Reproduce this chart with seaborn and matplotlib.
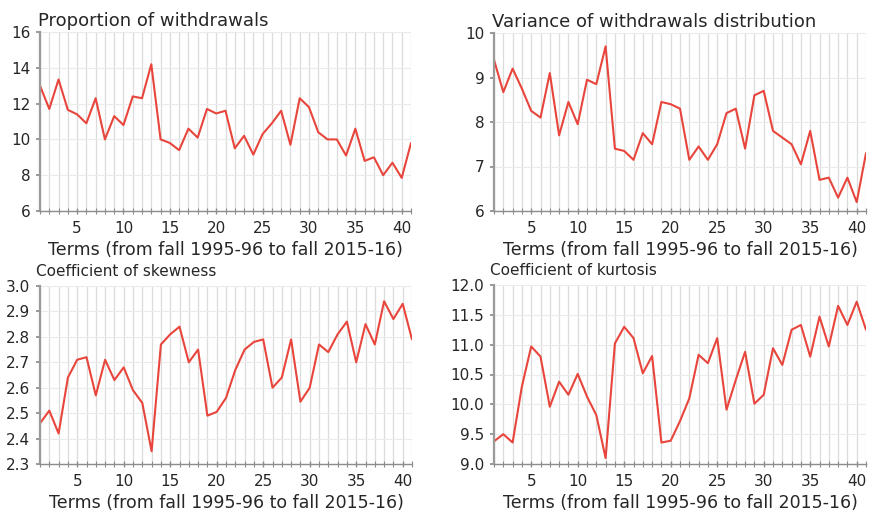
import numpy as np
import pandas as pd
import matplotlib
matplotlib.use("Agg")
import matplotlib.pyplot as plt
from matplotlib.ticker import MultipleLocator
import seaborn as sns

# Term index (fall 1995-96 through fall 2015-16)
terms = list(range(1, 42))

proportion = [13.0, 11.7, 13.35, 11.65, 11.4, 10.9, 12.3, 10.0, 11.3, 10.8,
              12.4, 12.3, 14.2, 10.0, 9.8, 9.4, 10.6, 10.1, 11.7, 11.45,
              11.6, 9.5, 10.2, 9.15, 10.3, 10.9, 11.6, 9.7, 12.3, 11.8,
              10.4, 10.0, 10.0, 9.1, 10.6, 8.8, 9.0, 8.0, 8.7, 7.85, 9.8]

variance = [9.4, 8.67, 9.2, 8.75, 8.25, 8.1, 9.1, 7.7, 8.45, 7.95,
            8.95, 8.85, 9.7, 7.4, 7.35, 7.15, 7.75, 7.5, 8.45, 8.4,
            8.3, 7.15, 7.45, 7.15, 7.5, 8.2, 8.3, 7.4, 8.6, 8.7,
            7.8, 7.65, 7.5, 7.05, 7.8, 6.7, 6.75, 6.3, 6.75, 6.2, 7.3]

skewness = [2.46, 2.51, 2.42, 2.64, 2.71, 2.72, 2.57, 2.71, 2.63, 2.68,
            2.59, 2.54, 2.35, 2.77, 2.81, 2.84, 2.70, 2.75, 2.49, 2.505,
            2.56, 2.67, 2.75, 2.78, 2.79, 2.60, 2.64, 2.79, 2.545, 2.60,
            2.77, 2.74, 2.81, 2.86, 2.70, 2.85, 2.77, 2.94, 2.87, 2.93, 2.79]

kurtosis = [9.38, 9.50, 9.36, 10.30, 10.97, 10.80, 9.96, 10.38, 10.16, 10.51,
            10.13, 9.82, 9.10, 11.02, 11.30, 11.11, 10.52, 10.81, 9.36, 9.39,
            9.72, 10.10, 10.83, 10.69, 11.11, 9.91, 10.41, 10.88, 10.01, 10.16,
            10.94, 10.66, 11.25, 11.33, 10.80, 11.47, 10.97, 11.65, 11.33, 11.72, 11.25]

titles = ["Proportion of withdrawals", "Variance of withdrawals distribution",
          "Coefficient of skewness", "Coefficient of kurtosis"]
xlabel = "Terms (from fall 1995-96 to fall 2015-16)"

series = [proportion, variance, skewness, kurtosis]
ylims = [(6, 16), (6, 10), (2.3, 3.0), (9.0, 12.0)]
ysteps = [2, 1, 0.1, 0.5]
yfmt = ["{:.0f}", "{:.0f}", "{:.1f}", "{:.1f}"]

sns.set_theme(style="white")
plt.rcParams["font.family"] = ["DejaVu Sans"]

W, H = 876, 529
fig = plt.figure(figsize=(W / 100, H / 100), dpi=100)

# panel boxes in pixels: left, top, right, bottom
boxes = [(40, 32, 411, 211), (494, 33, 866, 211),
         (40, 286, 412, 464), (494, 285, 866, 464)]

line_color = "#e8453c"
text_color = "#262626"
axis_color = "#8c8c8c"

for i, (vals, (l, t, r, b)) in enumerate(zip(series, boxes)):
    ax = fig.add_axes([l / W, 1 - b / H, (r - l) / W, (b - t) / H])
    df = pd.DataFrame({"term": terms, "value": vals})
    sns.lineplot(data=df, x="term", y="value", ax=ax, color=line_color,
                 linewidth=1.5)
    ax.set_xlim(1, 41)
    ax.set_ylim(*ylims[i])
    ax.xaxis.set_major_locator(MultipleLocator(5))
    ax.xaxis.set_minor_locator(MultipleLocator(1))
    lo, hi = ylims[i]
    yt = np.round(np.arange(lo, hi + ysteps[i] / 2, ysteps[i]), 2)
    ax.set_yticks(yt)
    ax.set_yticklabels([yfmt[i].format(v) for v in yt])
    ax.set_xticks([5, 10, 15, 20, 25, 30, 35, 40])

    ax.grid(which="minor", axis="x", color="#dcdcdc", linewidth=0.9)
    ax.grid(which="major", axis="x", color="#dcdcdc", linewidth=0.9)
    ax.grid(which="major", axis="y", color="#ebebeb", linewidth=0.8)
    ax.set_axisbelow(True)

    for s in ("top", "right"):
        ax.spines[s].set_visible(False)
    ax.spines["left"].set_color("#9a9a9a")
    ax.spines["left"].set_linewidth(1.6)
    ax.spines["bottom"].set_color(axis_color)
    ax.spines["bottom"].set_linewidth(1.0)

    ax.tick_params(axis="x", which="both", direction="inout", color=axis_color,
                   bottom=True)
    ax.tick_params(axis="x", which="major", length=5, width=1.0, pad=5,
                   labelsize=11, labelcolor=text_color)
    ax.tick_params(axis="x", which="minor", length=4, width=0.8)
    ax.tick_params(axis="y", which="major", direction="out", length=3,
                   color=axis_color, left=True, pad=4, labelsize=11,
                   labelcolor=text_color)

    ax.set_xlabel(xlabel, fontsize=12.5, color=text_color, labelpad=3)
    ax.set_ylabel("")

    if i < 2:
        ax.text(-0.005, 1.06, titles[i], transform=ax.transAxes, fontsize=13,
                color=text_color, ha="left", va="center")
    else:
        ax.text(-0.012, 1.08, titles[i], transform=ax.transAxes, fontsize=11,
                color=text_color, ha="left", va="center")

fig.savefig("out.png", dpi=100, facecolor="white")
